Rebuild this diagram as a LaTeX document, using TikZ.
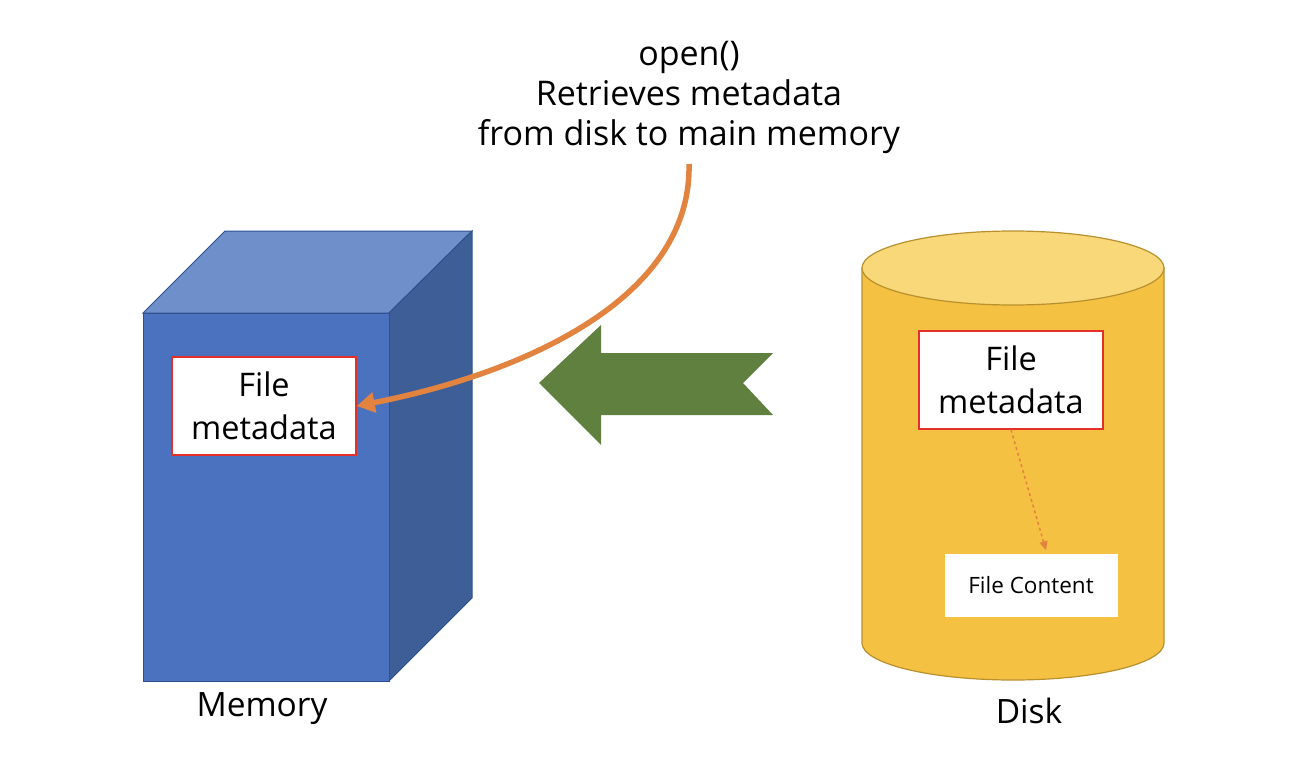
\documentclass[tikz,border=0pt]{standalone}
\usepackage{fontspec}
\setmainfont{Open Sans}
\usepackage{xcolor}
\usepackage{tikz}
\usetikzlibrary{arrows.meta, positioning, calc}

\definecolor{memfront}{HTML}{4A72BE}
\definecolor{memtop}{HTML}{6F8FCB}
\definecolor{memside}{HTML}{3E5E98}
\definecolor{memedge}{HTML}{2F528F}
\definecolor{diskbody}{HTML}{F5C143}
\definecolor{disktop}{HTML}{F8D878}
\definecolor{diskedge}{HTML}{B8902E}
\definecolor{metared}{HTML}{E5302A}
\definecolor{openorange}{HTML}{E2833F}
\definecolor{movegreen}{HTML}{5F803F}

\begin{document}
\begin{tikzpicture}[
            x=1pt, y=-1pt,
            metabox/.style={rectangle, draw=metared, line width=1.5pt, fill=white, minimum width=184pt, minimum height=98pt, align=center, font=\fontsize{32.5}{43}\selectfont},
            contentbox/.style={rectangle, fill=white, minimum width=173pt, minimum height=63pt, font=\fontsize{22.5}{26}\selectfont},
            caption/.style={font=\fontsize{33.5}{38}\selectfont},
            title/.style={align=center, font=\fontsize{34}{40}\selectfont}
        ]
            \useasboundingbox (0,0) rectangle (1296,776);

            % Memory cube
            \filldraw[fill=memtop, draw=memedge, line width=1pt] (143,313) -- (225,231) -- (472,231) -- (389,313) -- cycle;
            \filldraw[fill=memside, draw=memedge, line width=1pt] (389,313) -- (472,231) -- (472,598) -- (389,681) -- cycle;
            \filldraw[fill=memfront, draw=memedge, line width=1pt] (143,313) rectangle (389,681);

            % Disk cylinder
            \filldraw[fill=diskbody, draw=diskedge, line width=1.2pt] (862,268) -- (862,643) arc[start angle=180, end angle=360, x radius=151pt, y radius=37pt] -- (1164,268) -- cycle;
            \filldraw[fill=disktop, draw=diskedge, line width=1.2pt] (1013,268) ellipse [x radius=151pt, y radius=37pt];

            % Green block arrow
            \fill[movegreen] (539,383) -- (601,325) -- (601,353) -- (773,353) -- (743,383) -- (773,415) -- (601,415) -- (601,445) -- cycle;

            % Nodes
            \node[metabox] (memmeta) at (264,406) {File\\metadata};
            \node[metabox] (diskmeta) at (1011,380) {File\\metadata};
            \node[contentbox] (content) at (1031,585) {File Content};
            \node[caption] (memory) at (262,709) {Memory};
            \node[caption] (disk) at (1029,711) {Disk};
            \node[title] (open) at (689,97) {open()\\Retrieves metadata\\from disk to main memory};
            \coordinate (callout) at (689,164);

            % Arrows
            \draw[-{Triangle[length=18pt, width=20pt]}, openorange, line width=5.5pt]
                (callout) .. controls (692,300) and (520,374) .. (memmeta.east);
            \draw[-{Triangle[length=9pt, width=8pt]}, openorange, line width=1.5pt, dashed]
                (diskmeta.south) -- ([xshift=15pt, yshift=3pt]content.north);

        \end{tikzpicture}
\end{document}
